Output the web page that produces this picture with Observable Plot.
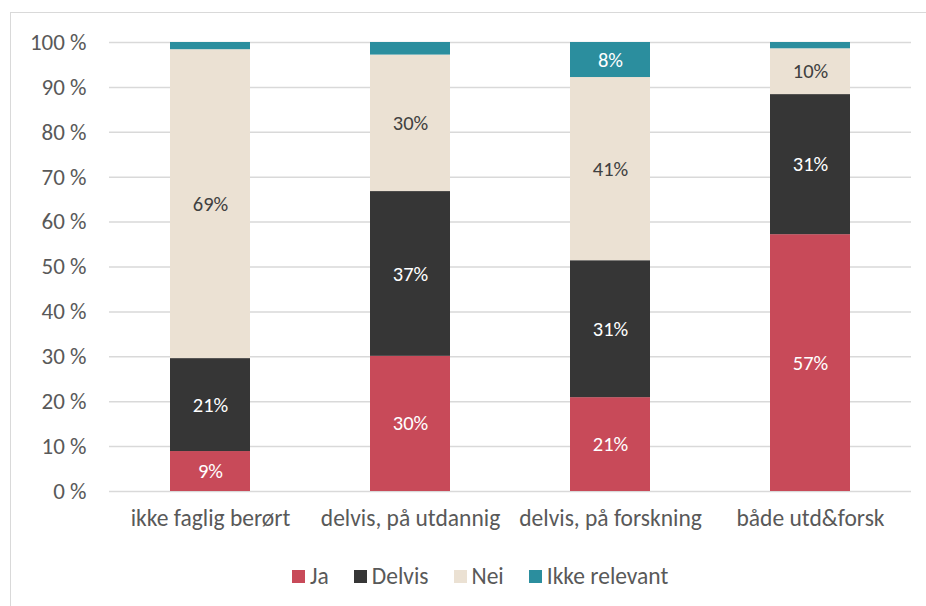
<!DOCTYPE html>
<html><head><meta charset="utf-8">
<script src="https://cdn.jsdelivr.net/npm/d3@7"></script>
<script src="https://cdn.jsdelivr.net/npm/@observablehq/plot@0.6"></script>
<style>
body{margin:0;background:#fff;font-family:Carlito,Lato,sans-serif;overflow:hidden;}
#frame{position:absolute;left:10px;top:12px;width:1000px;height:700px;border-left:1.5px solid #d9d9d9;border-top:1.5px solid #d9d9d9;}
#chart{position:relative;}
#legend{position:relative;display:flex;align-items:center;margin-left:292px;height:30px;margin-top:16px;font-size:23.5px;color:#595959;}
.item{display:flex;align-items:center;margin-right:25px;}
.sw{width:13px;height:13px;margin-right:5px;}
</style>
</head><body>
<div id="frame"></div>
<div id="chart"></div>
<div id="legend"></div>
<script>
const categories = ["ikke faglig berørt", "delvis, på utdannig", "delvis, på forskning", "både utd&forsk"];
const seriesNames = ["Ja", "Delvis", "Nei", "Ikke relevant"];
const ja = [8.9, 30.1, 20.9, 57.2];
const delvis = [20.7, 36.7, 30.5, 31.2];
const nei = [68.8, 30.4, 40.8, 10.2];
const ikkeRelevant = [1.6, 2.8, 7.8, 1.4];
const seriesColors = ["#c84a59", "#363636", "#ebe1d3", "#2b8e9e"];
const labelColors = ["#ffffff", "#ffffff", "#404040", "#ffffff"];
const yTicks = [0, 10, 20, 30, 40, 50, 60, 70, 80, 90, 100];

const seriesValues = [ja, delvis, nei, ikkeRelevant];
const data = [];
seriesNames.forEach((s, si) => {
  categories.forEach((c, ci) => {
    data.push({cat: c, series: s, value: seriesValues[si][ci], color: seriesColors[si], lcolor: labelColors[si]});
  });
});

const plot = Plot.plot({
  width: 926,
  height: 545,
  marginTop: 42,
  marginBottom: 54,
  marginLeft: 109,
  marginRight: 15,
  style: {fontFamily: "Carlito, Lato, sans-serif", color: "#595959", background: "transparent"},
  x: {domain: categories, paddingInner: 0.6, paddingOuter: 0.3, label: null},
  y: {domain: [0, 100], label: null},
  color: {type: "identity"},
  marks: [
    Plot.gridY(yTicks, {stroke: "#d9d9d9", strokeOpacity: 1, strokeWidth: 1.5}),
    Plot.barY(data, Plot.stackY({x: "cat", y: "value", z: "series", order: seriesNames, fill: "color"})),
    Plot.text(data, Plot.stackY({
      x: "cat", y: "value", z: "series", order: seriesNames,
      text: d => d.value >= 5 ? Math.round(d.value) + "%" : "",
      fill: "lcolor", fontSize: 20.5
    })),
    Plot.axisY(yTicks, {tickSize: 0, tickPadding: 23, tickFormat: d => d + " %", fontSize: 23, label: null}),
    Plot.axisX({tickSize: 0, tickPadding: 18, fontSize: 23.5, label: null})
  ]
});
document.getElementById("chart").appendChild(plot);

const legend = document.getElementById("legend");
seriesNames.forEach((s, i) => {
  const item = document.createElement("div");
  item.className = "item";
  const sw = document.createElement("div");
  sw.className = "sw";
  sw.style.background = seriesColors[i];
  const t = document.createElement("span");
  t.textContent = s;
  item.appendChild(sw);
  item.appendChild(t);
  legend.appendChild(item);
});
</script>
</body></html>
